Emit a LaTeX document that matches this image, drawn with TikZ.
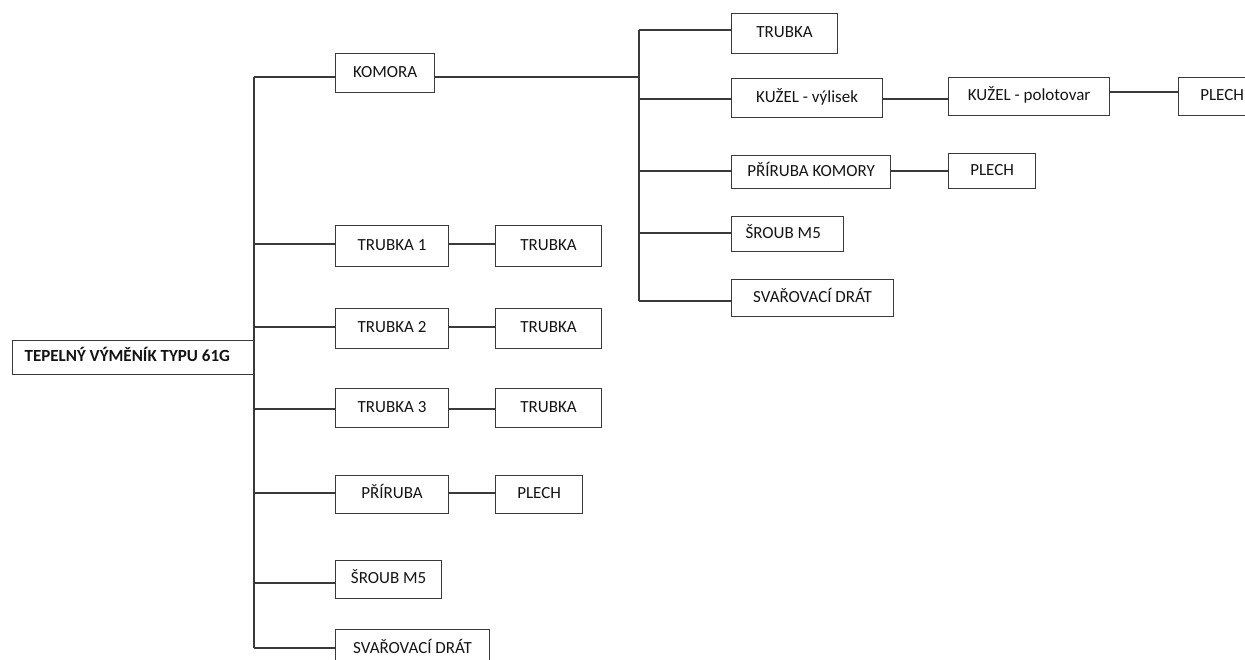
\documentclass[tikz,border=0pt]{standalone}
\usepackage{fontspec}
\setmainfont{Carlito}
\definecolor{linegray}{HTML}{3A3A3A}
\definecolor{textgray}{HTML}{141414}
\tikzset{
  box/.style={draw=linegray, line width=1.2pt, inner sep=0pt, anchor=north west,
    font=\fontsize{17}{20}\selectfont, text=textgray, text height=11.5pt, text depth=3pt},
  conn/.style={draw=linegray, line width=1.2pt},
}
\newcommand{\bx}[6]{\node[box, minimum width=#4pt, minimum height=#5pt] (#1) at (#2,#3) {#6};}
\begin{document}
\begin{tikzpicture}[x=1pt,y=-1pt]
\useasboundingbox (0,0) rectangle (1245,660);
\clip (0,0) rectangle (1245,660);
% root
\node[box, minimum width=241pt, minimum height=34pt, font=\fontsize{17}{20}\selectfont\bfseries] (root) at (12,340) {\makebox[217pt][l]{TEPELNÝ VÝMĚNÍK TYPU 61G}};
% left column
\bx{komora}{335}{53}{99}{39}{KOMORA}
\bx{t1}{335}{225}{113}{41}{TRUBKA 1}
\bx{t1c}{495}{225}{106}{41}{TRUBKA}
\bx{t2}{335}{308}{113}{40}{TRUBKA 2}
\bx{t2c}{495}{308}{106}{40}{TRUBKA}
\bx{t3}{335}{388}{113}{39}{TRUBKA 3}
\bx{t3c}{495}{388}{106}{39}{TRUBKA}
\bx{pr}{335}{475}{113}{38}{PŘÍRUBA}
\bx{prc}{495}{475}{87}{38}{PLECH}
\bx{sr}{335}{560}{106}{38}{ŠROUB M5}
\bx{sv}{335}{629}{154}{40}{SVAŘOVACÍ DRÁT}
% right column
\bx{rt}{731}{13}{106}{40}{TRUBKA}
\bx{kv}{731}{78}{151}{39}{KUŽEL - výlisek}
\bx{kp}{948}{77}{161}{38}{KUŽEL - polotovar}
\bx{kpl}{1178}{77}{87}{38}{PLECH}
\bx{prk}{731}{155}{159}{33}{PŘÍRUBA KOMORY}
\bx{prkc}{948}{153}{87}{35}{PLECH}
\bx{rsr}{731}{216}{112}{35}{\makebox[84pt][l]{ŠROUB M5}}
\bx{rsv}{731}{279}{162}{37}{SVAŘOVACÍ DRÁT}
% left trunk junctions
\coordinate (lk) at (254,77);
\coordinate (l1) at (254,244);
\coordinate (l2) at (254,327);
\coordinate (l3) at (254,409);
\coordinate (l4) at (254,493);
\coordinate (l5) at (254,583);
\coordinate (l6) at (254,648);
\draw[conn] (lk) -- (l6);
\draw[conn] (lk) -- (komora.west |- lk);
\draw[conn] (l1) -- (t1.west |- l1);
\draw[conn] (l2) -- (t2.west |- l2);
\draw[conn] (l3) -- (t3.west |- l3);
\draw[conn] (l4) -- (pr.west |- l4);
\draw[conn] (l5) -- (sr.west |- l5);
\draw[conn] (l6) -- (sv.west |- l6);
\draw[conn] (t1.east |- l1) -- (t1c.west |- l1);
\draw[conn] (t2.east |- l2) -- (t2c.west |- l2);
\draw[conn] (t3.east |- l3) -- (t3c.west |- l3);
\draw[conn] (pr.east |- l4) -- (prc.west |- l4);
% right trunk junctions
\coordinate (r0) at (639,30);
\coordinate (rk) at (639,77);
\coordinate (r1) at (639,99);
\coordinate (r2) at (639,171);
\coordinate (r3) at (639,233);
\coordinate (r4) at (639,301);
\coordinate (rp) at (639,92);
\draw[conn] (r0) -- (r4);
\draw[conn] (komora.east |- rk) -- (rk);
\draw[conn] (r0) -- (rt.west |- r0);
\draw[conn] (r1) -- (kv.west |- r1);
\draw[conn] (r2) -- (prk.west |- r2);
\draw[conn] (r3) -- (rsr.west |- r3);
\draw[conn] (r4) -- (rsv.west |- r4);
\draw[conn] (kv.east |- r1) -- (kp.west |- r1);
\draw[conn] (kp.east |- rp) -- (kpl.west |- rp);
\draw[conn] (prk.east |- r2) -- (prkc.west |- r2);
\end{tikzpicture}
\end{document}
